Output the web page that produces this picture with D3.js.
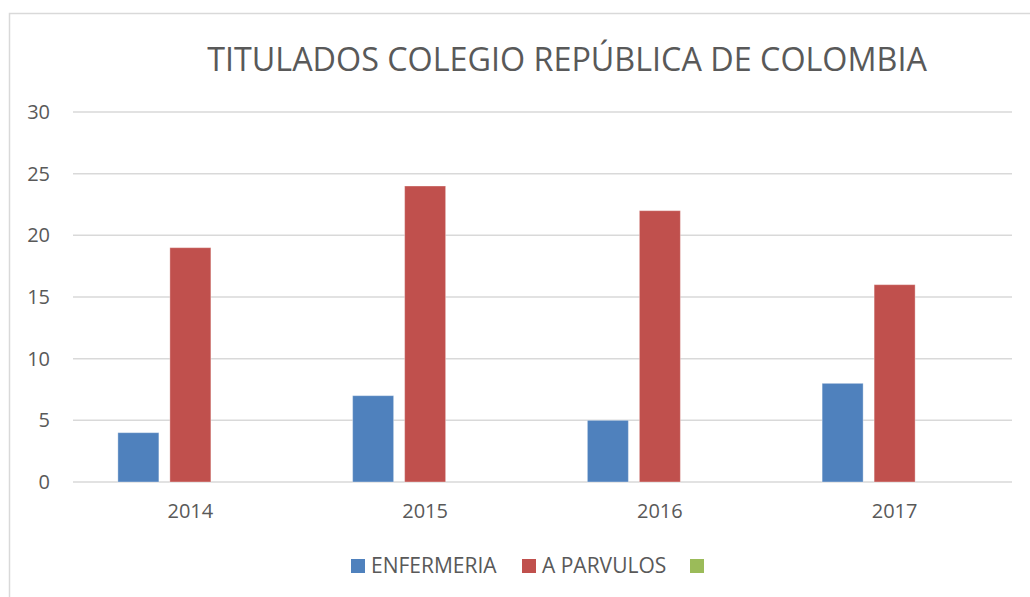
<!DOCTYPE html>
<html>
<head>
<meta charset="utf-8">
<script src="https://cdn.jsdelivr.net/npm/d3@7"></script>
<style>
  body { margin: 0; background: #fff; }
  text { font-family: "Open Sans", "Liberation Sans", sans-serif; fill: #595959; }
</style>
</head>
<body>
<svg id="chart" width="1030" height="597"></svg>
<script>
// Data.

const years = ["2014", "2015", "2016", "2017"];
const seriesNames = ["ENFERMERIA", "A PARVULOS", ""];
const enfermeria = [4, 7, 5, 8];
const parvulos = [19, 24, 22, 16];
const tercera = [0, 0, 0, 0];
const yTicks = [0, 5, 10, 15, 20, 25, 30];
const colors = ["#4F81BD", "#C0504D", "#9BBB59"];

const svg = d3.select("#chart");

const margin = { T: 112, B: 115, L: 73, R: 18 };
const width = 1030, height = 597;

// Chart border.
svg.append("rect")
    .attr("x", 9.5).attr("y", 13.5)
    .attr("width", 1040).attr("height", 600)
    .attr("fill", "none")
    .attr("stroke", "#d9d9d9")
    .attr("stroke-width", 1.5);

// Title.
svg.append("text")
    .attr("x", 567).attr("y", 71)
    .attr("text-anchor", "middle")
    .attr("font-size", 32.3)
    .text("TITULADOS COLEGIO REPÚBLICA DE COLOMBIA");

//----------------------------------------------------------------------------//
//                                    AXES                                    //
//----------------------------------------------------------------------------//

const xScale = d3.scaleBand()
    .domain(years)
    .range([margin.L, width - margin.R]);

const yScale = d3.scaleLinear()
    .domain([0, 30])
    .range([height - margin.B, margin.T]);

// Gridlines.
svg.append("g")
    .selectAll("line")
    .data(yTicks)
    .join("line")
        .attr("x1", margin.L).attr("x2", width - margin.R)
        .attr("y1", d => yScale(d)).attr("y2", d => yScale(d))
        .attr("stroke", "#d9d9d9")
        .attr("stroke-width", 1.5);

const yAxis = d3.axisLeft(yScale).tickValues(yTicks).tickSize(0).tickPadding(23);
svg.append("g")
    .attr("transform", `translate(${margin.L}, 0)`)
    .call(yAxis)
    .call(g => g.select(".domain").remove())
    .call(g => g.selectAll("text")
        .attr("font-size", 20)
        .attr("fill", "#595959")
        .attr("font-family", "Open Sans, Liberation Sans, sans-serif"));

const xAxis = d3.axisBottom(xScale).tickSize(0).tickPadding(22);
svg.append("g")
    .attr("transform", `translate(0, ${yScale(0)})`)
    .call(xAxis)
    .call(g => g.select(".domain").remove())
    .call(g => g.selectAll("text")
        .attr("font-size", 20)
        .attr("fill", "#595959")
        .attr("font-family", "Open Sans, Liberation Sans, sans-serif"));

//----------------------------------------------------------------------------//
//                                    BARS                                    //
//----------------------------------------------------------------------------//

const seriesValues = [enfermeria, parvulos, tercera];

const inner = d3.scaleBand()
    .domain(d3.range(seriesNames.length))
    .range([0, xScale.bandwidth()])
    .paddingInner(0.2115)
    .paddingOuter(0.863);

seriesValues.forEach((vals, s) => {
    svg.append("g")
        .selectAll("rect")
        .data(vals.map((v, i) => ({ year: years[i], value: v })))
        .join("rect")
            .attr("x", d => xScale(d.year) + inner(s))
            .attr("width", inner.bandwidth())
            .attr("y", d => yScale(d.value))
            .attr("height", d => yScale(0) - yScale(d.value))
            .attr("fill", colors[s])
            .attr("stroke", d => d.value > 0 ? "rgba(255,255,255,0.35)" : "none")
            .attr("stroke-width", 1);
});

//----------------------------------------------------------------------------//
//                                   LEGEND                                   //
//----------------------------------------------------------------------------//

const legendX = [351, 522, 690];
const legend = svg.append("g");

seriesNames.forEach((name, i) => {
    legend.append("rect")
        .attr("x", legendX[i]).attr("y", 559)
        .attr("width", 14).attr("height", 14)
        .attr("fill", colors[i]);
    legend.append("text")
        .attr("x", legendX[i] + 20).attr("y", 573)
        .attr("font-size", 21)
        .text(name);
});
</script>
</body>
</html>
